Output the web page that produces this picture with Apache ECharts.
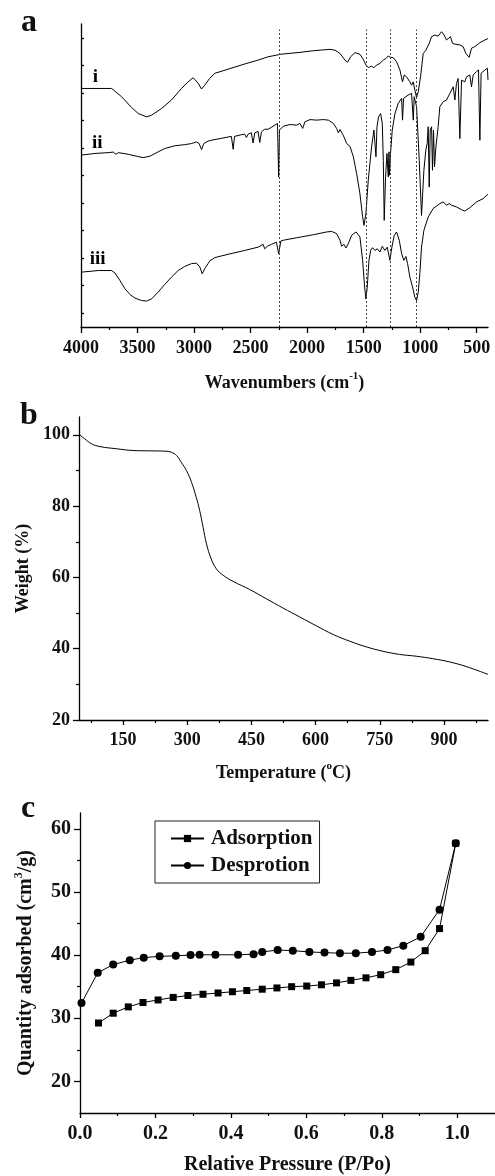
<!DOCTYPE html>
<html>
<head>
<meta charset="utf-8">
<script src="https://cdn.jsdelivr.net/npm/echarts@6/dist/echarts.min.js"></script>
<style>
  html, body { margin: 0; padding: 0; background: #fff; }
  #chart { width: 495px; height: 1176px; }
</style>
</head>
<body>
<div id="chart"></div>
<script>
// ---- panel a: FTIR spectra, [wavenumber, transmittance a.u.]
const specI = [[4000,8.66],[3729,8.66],[3641,8.36],[3553,7.97],[3494,7.75],[3420,7.63],[3376,7.69],[3288,7.93],[3200,8.24],[3111,8.66],[3053,8.90],[3008,9.05],[2964,8.85],[2934,8.64],[2905,8.78],[2861,9.03],[2816,9.21],[2699,9.36],[2551,9.55],[2433,9.69],[2345,9.81],[2257,9.88],[2239,9.90],[2063,9.97],[1945,10.03],[1798,10.08],[1754,10.05],[1709,9.93],[1665,9.69],[1642,9.61],[1615,9.81],[1577,9.96],[1533,9.90],[1503,9.72],[1480,9.51],[1459,9.42],[1430,9.47],[1409,9.41],[1385,9.51],[1356,9.57],[1326,9.69],[1303,9.75],[1282,9.84],[1262,9.79],[1238,9.78],[1209,9.63],[1179,9.33],[1156,8.90],[1141,9.15],[1120,9.08],[1091,8.90],[1076,8.78],[1061,8.90],[1047,8.60],[1032,8.33],[1017,8.54],[997,9.08],[973,9.93],[949,10.05],[920,10.30],[899,10.54],[870,10.60],[841,10.56],[811,10.72],[788,10.60],[767,10.42],[752,10.48],[732,10.54],[714,10.30],[693,10.27],[649,10.24],[620,10.18],[596,9.93],[567,9.79],[546,10.12],[517,10.18],[472,10.32],[428,10.42],[400,10.47]];
const specII = [[4000,6.24],[3877,6.30],[3759,6.33],[3715,6.35],[3691,6.27],[3670,6.33],[3582,6.27],[3509,6.20],[3450,6.15],[3391,6.20],[3317,6.36],[3258,6.48],[3170,6.58],[3082,6.62],[3023,6.66],[2979,6.72],[2955,6.66],[2934,6.44],[2914,6.66],[2876,6.75],[2846,6.78],[2758,6.85],[2670,6.92],[2654,6.45],[2642,6.92],[2581,6.98],[2552,7.00],[2537,6.88],[2522,7.00],[2493,7.05],[2478,6.68],[2463,7.05],[2434,7.10],[2419,6.70],[2404,7.08],[2375,7.18],[2345,7.18],[2316,7.25],[2262,7.39],[2252,5.45],[2244,7.15],[2210,7.29],[2151,7.35],[2092,7.33],[2063,7.39],[2039,7.21],[2019,7.45],[1974,7.53],[1916,7.51],[1857,7.53],[1812,7.51],[1768,7.39],[1739,7.21],[1724,7.05],[1709,7.17],[1680,6.96],[1650,6.66],[1621,6.56],[1591,6.18],[1562,5.57],[1533,4.84],[1509,4.00],[1497,3.69],[1480,4.12],[1459,5.33],[1430,6.54],[1409,7.15],[1400,7.21],[1391,6.18],[1382,7.27],[1368,7.63],[1350,7.75],[1335,7.39],[1326,6.05],[1318,3.87],[1306,5.45],[1294,6.30],[1282,5.45],[1276,6.36],[1271,5.51],[1262,6.30],[1247,7.15],[1223,7.75],[1194,8.12],[1164,8.30],[1156,7.51],[1147,8.30],[1106,8.42],[1076,8.48],[1061,7.51],[1053,8.36],[1032,8.00],[1008,6.05],[988,4.05],[967,5.69],[950,6.42],[938,6.66],[929,7.27],[920,5.08],[911,7.15],[899,7.27],[891,5.69],[882,7.15],[873,5.81],[861,6.54],[841,7.27],[826,8.00],[796,8.18],[767,8.24],[737,8.48],[708,8.72],[693,8.24],[679,8.84],[664,9.02],[649,6.84],[634,8.96],[605,8.90],[590,9.08],[561,9.15],[546,8.72],[531,9.15],[502,9.27],[484,9.33],[472,6.78],[461,9.21],[428,9.33],[405,9.39],[400,8.96]];
const specIII = [[4000,1.99],[3847,2.05],[3729,2.05],[3700,1.96],[3656,1.69],[3612,1.39],[3567,1.18],[3523,1.05],[3464,0.96],[3420,0.94],[3376,1.02],[3317,1.27],[3258,1.55],[3200,1.81],[3141,2.05],[3082,2.20],[3023,2.30],[2979,2.32],[2949,2.18],[2928,1.93],[2905,2.12],[2876,2.30],[2861,2.40],[2816,2.52],[2699,2.64],[2551,2.78],[2433,2.90],[2389,3.00],[2375,2.84],[2352,2.93],[2316,3.00],[2272,3.08],[2251,2.66],[2233,3.12],[2210,3.15],[2092,3.24],[1945,3.35],[1827,3.45],[1783,3.47],[1739,3.39],[1709,3.15],[1695,2.93],[1674,3.00],[1656,2.87],[1636,3.02],[1606,3.33],[1568,3.45],[1533,3.27],[1509,2.42],[1491,1.45],[1480,1.02],[1468,1.45],[1453,2.42],[1438,2.78],[1421,2.88],[1400,2.78],[1379,2.84],[1356,2.72],[1335,2.93],[1312,2.78],[1291,2.90],[1268,2.42],[1250,2.90],[1229,3.33],[1209,3.45],[1185,3.15],[1164,2.66],[1144,2.42],[1126,2.56],[1111,2.30],[1091,1.81],[1067,1.45],[1047,1.08],[1032,0.96],[1017,1.27],[1003,1.93],[988,2.90],[967,3.51],[929,3.99],[885,4.30],[826,4.48],[796,4.54],[767,4.42],[743,4.48],[723,4.42],[679,4.36],[634,4.26],[605,4.21],[561,4.33],[502,4.54],[443,4.66],[400,4.82]];
const guideWaves = [2250, 1480, 1265, 1035];
const guideTop = 10.8;
const tagNames = ['i', 'ii', 'iii'];
const tagWave = [3872, 3856, 3853];
const tagLevel = [9.07, 6.67, 2.45];
const ftirMajor = [4000, 3500, 3000, 2500, 2000, 1500, 1000, 500];
const ftirMinor = [3750, 3250, 2750, 2250, 1750, 1250, 750];
const ftirYTicks = [0.5, 1.5, 2.5, 3.5, 4.5, 5.5, 6.5, 7.5, 8.5, 9.5, 10.5];

// ---- panel b: TGA
const tgaTemp = [47, 60, 76, 96, 134, 173, 212, 251, 263, 275, 286, 298, 310, 321, 329, 337, 345, 356, 368, 384, 407, 446, 485, 524, 563, 602, 641, 680, 719, 757, 796, 835, 874, 913, 952, 1003];
const tgaWeight = [100.2, 98.9, 97.5, 96.7, 96.1, 95.6, 95.5, 95.4, 95.1, 94.2, 92.3, 90.0, 86.7, 82.5, 78.8, 74.1, 69.4, 65.2, 62.4, 60.6, 58.9, 56.6, 54.0, 51.4, 48.9, 46.4, 44.0, 42.1, 40.5, 39.3, 38.4, 37.9, 37.2, 36.3, 35.0, 32.8];
const tgaXMajor = [150, 300, 450, 600, 750, 900];
const tgaXMinor = [75, 225, 375, 525, 675, 825, 975];
const tgaYMajor = [20, 40, 60, 80, 100];
const tgaYMinor = [30, 50, 70, 90];

// ---- panel c: N2 isotherm
const adsP = [0.049, 0.088, 0.128, 0.167, 0.207, 0.247, 0.286, 0.326, 0.366, 0.404, 0.442, 0.483, 0.522, 0.561, 0.601, 0.640, 0.680, 0.718, 0.758, 0.797, 0.837, 0.877, 0.915, 0.953, 0.996];
const adsQ = [29.25, 30.8, 31.8, 32.5, 32.9, 33.3, 33.6, 33.8, 34.0, 34.2, 34.4, 34.6, 34.8, 35.0, 35.1, 35.3, 35.6, 36.0, 36.4, 36.9, 37.7, 38.9, 40.7, 44.2, 57.7];
const desP = [0.004, 0.047, 0.088, 0.132, 0.169, 0.211, 0.254, 0.293, 0.317, 0.359, 0.419, 0.460, 0.483, 0.524, 0.564, 0.608, 0.648, 0.689, 0.731, 0.774, 0.815, 0.857, 0.903, 0.953, 0.996];
const desQ = [32.4, 37.2, 38.5, 39.2, 39.6, 39.8, 39.9, 40.0, 40.05, 40.05, 40.05, 40.15, 40.5, 40.8, 40.7, 40.5, 40.4, 40.3, 40.3, 40.5, 40.8, 41.5, 42.9, 47.2, 57.7];
const isoXMajor = [0, 0.2, 0.4, 0.6, 0.8, 1.0];
const isoXMinor = [0.1, 0.3, 0.5, 0.7, 0.9];
const isoYMajor = [20, 30, 40, 50, 60];
const isoYMinor = [25, 35, 45, 55];

const FONT = "'Liberation Serif', 'Times New Roman', serif";
const INK = '#111';

const zip = (a, b) => a.map((v, i) => [v, b[i]]);

function richName(size) {
  return {
    fontFamily: FONT, fontWeight: 'bold', fontSize: size, color: INK,
    rich: {
      n: { fontFamily: FONT, fontWeight: 'bold', fontSize: size, color: INK, lineHeight: size + 6 },
      s: { fontFamily: FONT, fontWeight: 'bold', fontSize: Math.round(size * 0.62), color: INK, lineHeight: Math.round(size * 0.62), verticalAlign: 'top' }
    }
  };
}

// one axis = line + major ticks + labels; a twin axis carries the short minor ticks
function axisPair(dim, o) {
  const base = {
    type: 'value', gridIndex: o.grid, min: o.min, max: o.max, inverse: !!o.inverse,
    position: dim === 'x' ? 'bottom' : 'left',
    splitLine: { show: false }
  };
  const main = Object.assign({}, base, {
    axisLine: { show: true, onZero: false, lineStyle: { color: '#000', width: 1.3 } },
    axisTick: { show: true, inside: !!o.inside, length: o.majorLen, customValues: o.major, lineStyle: { color: '#000', width: 1.3 } },
    axisLabel: o.labels === false ? { show: false } : {
      show: true, customValues: o.major, margin: o.margin, fontFamily: FONT, fontWeight: 'bold',
      fontSize: o.fontSize, color: INK, formatter: o.fmt || (v => String(v))
    },
    name: o.name, nameLocation: 'middle', nameGap: o.nameGap,
    nameTextStyle: richName(o.nameSize || o.fontSize)
  });
  const out = [main];
  if (o.minor) {
    out.push(Object.assign({}, base, {
      axisLine: { show: false, onZero: false },
      axisTick: { show: true, inside: !!o.inside, length: o.minorLen, customValues: o.minor, lineStyle: { color: '#000', width: 1.2 } },
      axisLabel: { show: false }
    }));
  }
  return out;
}

const xAxes = [];
const yAxes = [];
function addAxes(list, pair) { const idx = list.length; pair.forEach(a => list.push(a)); return idx; }

const xa = addAxes(xAxes, axisPair('x', { grid: 0, min: 400, max: 4000, inverse: true, major: ftirMajor, minor: ftirMinor, majorLen: 6, minorLen: 3, margin: 12, fontSize: 18, name: '{n|Wavenumbers (cm}{s|-1}{n|)}', nameGap: 44 }));
const ya = addAxes(yAxes, axisPair('y', { grid: 0, min: 0, max: 11, major: ftirYTicks, majorLen: 3, inside: true, labels: false }));
const xb = addAxes(xAxes, axisPair('x', { grid: 1, min: 47, max: 1003, major: tgaXMajor, minor: tgaXMinor, majorLen: 5, minorLen: 3, margin: 11, fontSize: 18, name: '{n|Temperature (}{s|o}{n|C)}', nameGap: 41 }));
const yb = addAxes(yAxes, axisPair('y', { grid: 1, min: 20, max: 105, major: tgaYMajor, minor: tgaYMinor, majorLen: 6, minorLen: 3, margin: 9, fontSize: 18, name: '{n|Weight (%)}', nameGap: 43 }));
const xc = addAxes(xAxes, axisPair('x', { grid: 2, min: 0, max: 1.1, major: isoXMajor, minor: isoXMinor, majorLen: 5, minorLen: 3, margin: 11, fontSize: 20, fmt: v => v.toFixed(1), name: '{n|Relative Pressure (P/Po)}', nameGap: 39 }));
const yc = addAxes(yAxes, axisPair('y', { grid: 2, min: 15, max: 62.5, major: isoYMajor, minor: isoYMinor, majorLen: 6, minorLen: 3, margin: 9, fontSize: 20, name: '{n|Quantity adsorbed (cm}{s|3}{n|/g)}', nameGap: 41 }));

const spectrum = (data) => ({
  type: 'line', xAxisIndex: xa, yAxisIndex: ya, data: data, showSymbol: false,
  lineStyle: { color: '#000', width: 1 }, itemStyle: { color: '#000' }, silent: true
});

const chart = echarts.init(document.getElementById('chart'), null, { renderer: 'canvas' });
chart.setOption({
  animation: false,
  backgroundColor: '#fff',
  grid: [
    { left: 81, top: 24, width: 407, height: 303 },
    { left: 79, top: 417, width: 409, height: 303 },
    { left: 80, top: 813, width: 415, height: 304 }
  ],
  xAxis: xAxes,
  yAxis: yAxes,
  legend: {
    left: 155, top: 821, orient: 'vertical',
    data: ['Adsorption', 'Desprotion'],
    borderColor: '#222', borderWidth: 1, backgroundColor: '#fff',
    padding: [7, 7, 7, 15], itemGap: 6, itemWidth: 33, itemHeight: 9,
    textStyle: { fontFamily: FONT, fontWeight: 'bold', fontSize: 21, color: INK, padding: [0, 0, 0, 2] }
  },
  graphic: [
    { type: 'text', left: 21, top: 7, style: { text: 'a', font: "bold 32px 'Liberation Serif', serif", fill: INK } },
    { type: 'text', left: 20, top: 400, style: { text: 'b', font: "bold 32px 'Liberation Serif', serif", fill: INK } },
    { type: 'text', left: 21, top: 793, style: { text: 'c', font: "bold 32px 'Liberation Serif', serif", fill: INK } }
  ],
  series: [
    Object.assign(spectrum(specI), {
      markLine: {
        silent: true, symbol: 'none', label: { show: false },
        lineStyle: { type: [2, 2], color: '#444', width: 1 },
        data: guideWaves.map(w => [{ coord: [w, 0] }, { coord: [w, guideTop] }])
      }
    }),
    spectrum(specII),
    spectrum(specIII),
    {
      type: 'scatter', xAxisIndex: xa, yAxisIndex: ya, symbolSize: 1, silent: true,
      itemStyle: { color: 'rgba(0,0,0,0)', opacity: 1 },
      data: tagNames.map((n, i) => ({ value: [tagWave[i], tagLevel[i]], name: n })),
      label: { show: true, position: 'inside', formatter: p => p.name, fontFamily: FONT, fontWeight: 'bold', fontSize: 19, color: '#000', opacity: 1 }
    },
    {
      type: 'line', xAxisIndex: xb, yAxisIndex: yb, data: zip(tgaTemp, tgaWeight), smooth: 0.4,
      showSymbol: false, lineStyle: { color: '#000', width: 1 }, silent: true
    },
    {
      name: 'Adsorption', type: 'line', xAxisIndex: xc, yAxisIndex: yc, data: zip(adsP, adsQ),
      symbol: 'rect', symbolSize: 7, lineStyle: { color: '#000', width: 1 }, itemStyle: { color: '#000' }, silent: true
    },
    {
      name: 'Desprotion', type: 'line', xAxisIndex: xc, yAxisIndex: yc, data: zip(desP, desQ),
      symbol: 'circle', symbolSize: 8, lineStyle: { color: '#000', width: 1 }, itemStyle: { color: '#000' }, silent: true
    }
  ]
});
</script>
</body>
</html>
